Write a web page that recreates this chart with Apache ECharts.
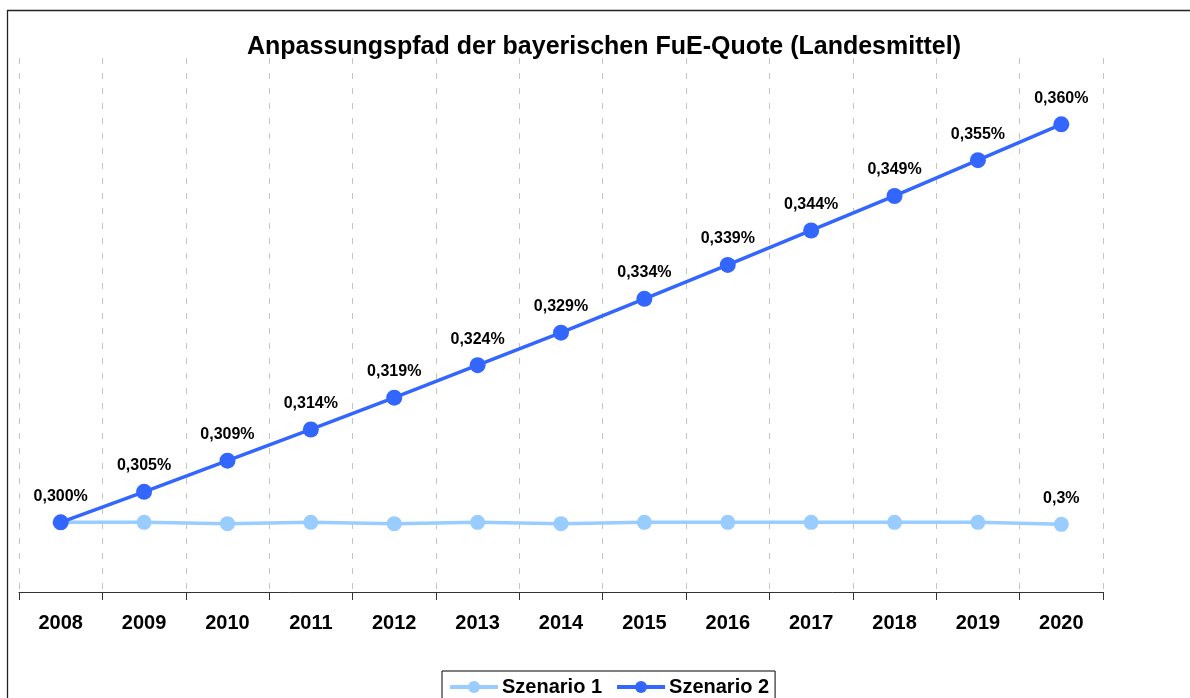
<!DOCTYPE html>
<html>
<head>
<meta charset="utf-8">
<script src="https://cdn.jsdelivr.net/npm/echarts@6/dist/echarts.min.js"></script>
<style>
html,body{margin:0;padding:0;background:#fff;}
#chart{width:1190px;height:698px;}
</style>
</head>
<body>
<div id="chart"></div>
<script>
const titleText = 'Anpassungspfad der bayerischen FuE-Quote (Landesmittel)';
const years = ['2008','2009','2010','2011','2012','2013','2014','2015','2016','2017','2018','2019','2020'];
const szenario1 = [0.3000, 0.3000, 0.2998, 0.3000, 0.2998, 0.3000, 0.2998, 0.3000, 0.3000, 0.3000, 0.3000, 0.3000, 0.2997];
const szenario2 = [0.3000, 0.3046, 0.3093, 0.3140, 0.3188, 0.3237, 0.3286, 0.3337, 0.3388, 0.3440, 0.3492, 0.3546, 0.3600];
const seriesNames = ['Szenario 1', 'Szenario 2'];

const FONT = '"Liberation Sans", Arial, sans-serif';
const chart = echarts.init(document.getElementById('chart'), null, {renderer: 'canvas'});

chart.setOption({
  backgroundColor: '#ffffff',
  animation: false,
  textStyle: {fontFamily: FONT},
  title: {
    text: titleText,
    left: 242,
    top: 30,
    textStyle: {fontFamily: FONT, fontSize: 25, fontWeight: 'bold', color: '#000'}
  },
  grid: {left: 19, right: 87, top: 58, bottom: 106, containLabel: false},
  xAxis: {
    type: 'category',
    data: years,
    boundaryGap: true,
    axisLine: {lineStyle: {color: '#333', width: 1}},
    axisTick: {show: true, length: 8, lineStyle: {color: '#333'}},
    axisLabel: {margin: 21, fontFamily: FONT, fontSize: 20, fontWeight: 'bold', color: '#000'},
    splitLine: {show: true, lineStyle: {color: '#c4c4c4', type: [6, 9], width: 1}}
  },
  yAxis: {
    type: 'value',
    min: 0.2895,
    max: 0.37,
    show: false,
    splitLine: {show: false}
  },
  legend: {
    data: seriesNames,
    left: 442,
    top: 671,
    itemWidth: 48,
    itemHeight: 15,
    itemGap: 13,
    padding: [6, 6, 20, 6],
    borderColor: '#000',
    borderWidth: 1,
    lineStyle: {width: 4},
    textStyle: {fontFamily: FONT, fontSize: 20, fontWeight: 'bold', color: '#000', padding: [0, 0, 0, -1]}
  },
  series: [
    {
      name: seriesNames[0],
      type: 'line',
      data: szenario1,
      color: '#99ccff',
      symbol: 'circle',
      symbolSize: 15,
      lineStyle: {width: 3.5, color: '#99ccff'},
      itemStyle: {color: '#99ccff'},
      z: 2,
      label: {
        show: true,
        position: 'top',
        distance: 10,
        fontFamily: FONT, fontSize: 16, fontWeight: 'bold', color: '#000',
        formatter: function (p) {
          return p.dataIndex === years.length - 1 ? (Math.round(p.value * 10) / 10).toString().replace('.', ',') + '%' : '';
        }
      }
    },
    {
      name: seriesNames[1],
      type: 'line',
      data: szenario2,
      color: '#3366ff',
      symbol: 'circle',
      symbolSize: 16,
      lineStyle: {width: 3.5, color: '#3366ff'},
      itemStyle: {color: '#3366ff'},
      z: 3,
      label: {
        show: true,
        position: 'top',
        distance: 10,
        fontFamily: FONT, fontSize: 16, fontWeight: 'bold', color: '#000',
        formatter: function (p) {
          return p.value.toFixed(3).replace('.', ',') + '%';
        }
      }
    }
  ],
  graphic: [
    {type: 'line', shape: {x1: 7, y1: 10.5, x2: 1190, y2: 10.5}, style: {stroke: '#222', lineWidth: 1.3}, silent: true},
    {type: 'line', shape: {x1: 7.5, y1: 10, x2: 7.5, y2: 698}, style: {stroke: '#222', lineWidth: 1.3}, silent: true}
  ]
});
</script>
</body>
</html>
